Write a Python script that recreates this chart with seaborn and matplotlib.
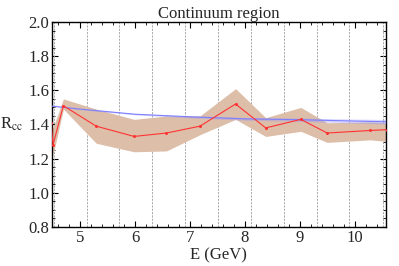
import numpy as np
import pandas as pd
import matplotlib
matplotlib.use("Agg")
import matplotlib.pyplot as plt
import seaborn as sns
from matplotlib.ticker import MultipleLocator

sns.set_style("ticks")
plt.rcParams['font.family'] = ['Liberation Serif', 'DejaVu Serif']
plt.rcParams['mathtext.fontset'] = 'stix'

# measured R_cc with uncertainty band
energy = [4.47, 4.50, 4.69, 5.29, 5.98, 6.57, 7.18, 7.83, 8.38, 9.02, 9.50, 10.29, 10.60]
rcc = [1.41, 1.28, 1.51, 1.39, 1.33, 1.35, 1.39, 1.52, 1.38, 1.43, 1.35, 1.365, 1.37]
rcc_hi = [1.40, 1.38, 1.55, 1.49, 1.43, 1.45, 1.45, 1.61, 1.44, 1.50, 1.41, 1.415, 1.41]
rcc_lo = [1.36, 1.22, 1.49, 1.29, 1.24, 1.245, 1.34, 1.43, 1.33, 1.36, 1.295, 1.31, 1.30]

# theory curve
e_theory = [4.48, 5.0, 6.0, 7.0, 8.0, 9.0, 10.0, 10.57]
r_theory = [1.508, 1.49, 1.46, 1.445, 1.433, 1.428, 1.42, 1.416]
r_theory_hi = [1.510, 1.493, 1.464, 1.451, 1.441, 1.438, 1.432, 1.429]
r_theory_lo = [1.506, 1.487, 1.456, 1.439, 1.425, 1.418, 1.408, 1.403]

# bin edges (dashed lines)
bin_edges = [4.52, 5.12, 5.71, 6.31, 6.91, 7.51, 8.11, 8.71, 9.31, 9.90, 10.51]

df = pd.DataFrame({'E': energy, 'R': rcc})
th = pd.DataFrame({'E': e_theory, 'R': r_theory})

fig = plt.figure(figsize=(3.99, 2.66), dpi=100)
ax = fig.add_axes([0.130, 0.147, 0.837, 0.770])

for e in bin_edges:
    ax.axvline(e, color='#9a9a9a', ls=(0, (2.5, 1.5)), lw=0.6, zorder=1)

ax.fill_between(energy, rcc_lo, rcc_hi, color='#dcbea9', lw=0, zorder=2)
ax.fill_between(e_theory, r_theory_lo, r_theory_hi, color='#9090ff', alpha=0.35, lw=0, zorder=3)
sns.lineplot(data=th, x='E', y='R', ax=ax, color='#7f7fff', lw=0.8, zorder=4)
sns.lineplot(data=df, x='E', y='R', ax=ax, color='#ff3333', lw=0.8,
             marker='o', markersize=2.2, markeredgewidth=0, zorder=5)

ax.set_xlim(4.48, 10.57)
ax.set_ylim(0.8, 2.0)
ax.xaxis.set_major_locator(MultipleLocator(1))
ax.xaxis.set_minor_locator(MultipleLocator(0.2))
ax.yaxis.set_major_locator(MultipleLocator(0.2))
ax.yaxis.set_minor_locator(MultipleLocator(0.05))
ax.yaxis.set_major_formatter(matplotlib.ticker.FormatStrFormatter('%.1f'))
ax.tick_params(which='both', direction='in', top=True, right=True, color='black')
ax.tick_params(which='major', length=4, width=0.8, labelsize=12, pad=2)
ax.tick_params(which='minor', length=2, width=0.6)
for s in ax.spines.values():
    s.set_color('black')
    s.set_linewidth(1.0)

ax.set_xlabel('E (GeV)', fontsize=12, labelpad=1)
ax.set_ylabel(r'R$_{\mathrm{cc}}$', fontsize=12, rotation=0, labelpad=12, va='center')
ax.set_title('Continuum region', fontsize=12, pad=3)

fig.savefig('out.png', dpi=100)
